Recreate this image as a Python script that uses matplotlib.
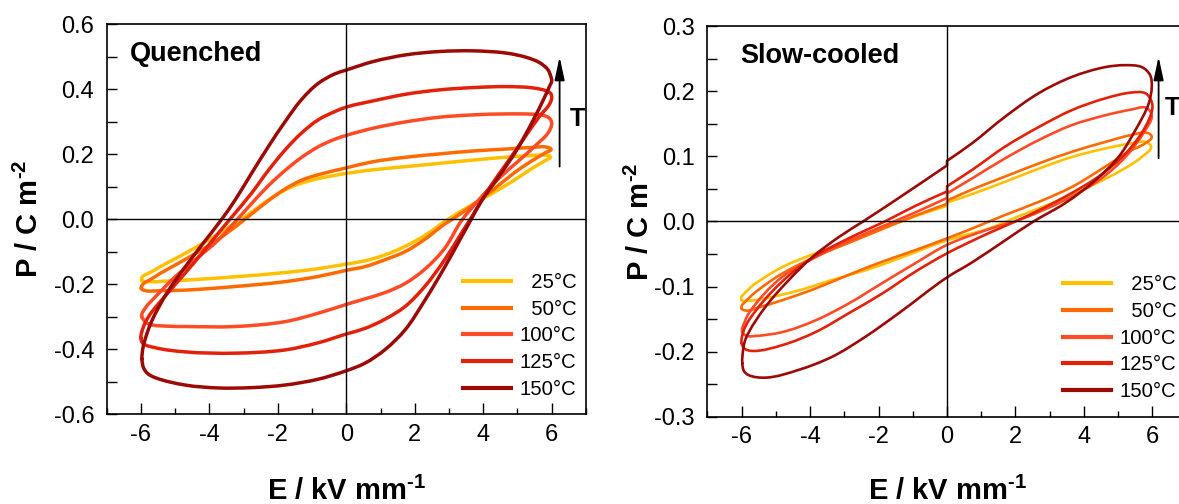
import numpy as np
import matplotlib
matplotlib.use("Agg")
import matplotlib.pyplot as plt
from matplotlib.ticker import MultipleLocator, FormatStrFormatter
from matplotlib.path import Path
from matplotlib.patches import PathPatch
from matplotlib.lines import Line2D

plt.rcParams["font.family"] = ["Liberation Sans", "DejaVu Sans"]
plt.rcParams["axes.unicode_minus"] = False
plt.rcParams["mathtext.fontset"] = "custom"
plt.rcParams["mathtext.rm"] = "Liberation Sans:bold"
plt.rcParams["mathtext.bf"] = "Liberation Sans:bold"
plt.rcParams["mathtext.default"] = "bf"

# ---------------------------------------------------------------- data
temps = ["  25°C", "  50°C", "100°C", "125°C", "150°C"]
colors = ["#FFC000", "#FF6A00", "#FF4A26", "#E3200A", "#9C0A06"]

# Quenched: P (C m^-2) vs E (kV mm^-1); each branch listed with E ascending
q25_upper = [(-5.98, -0.187), (-5.59, -0.156), (-4.71, -0.105), (-3.93, -0.058), (-3.25, -0.012),
             (-2.90, 0.012), (-2.28, 0.059), (-1.79, 0.090), (-1.31, 0.111), (-0.82, 0.125),
             (0.0, 0.141), (0.78, 0.152), (1.76, 0.162), (2.73, 0.172), (3.70, 0.182),
             (4.68, 0.191), (5.40, 0.196), (5.80, 0.197), (5.96, 0.192)]
q25_lower = [(-5.98, -0.187), (-5.70, -0.192), (-5.20, -0.190), (-4.20, -0.184), (-3.25, -0.177),
             (-1.79, -0.164), (-0.82, -0.152), (0.0, -0.138), (0.54, -0.128), (1.12, -0.110),
             (1.71, -0.084), (2.29, -0.050), (2.97, 0.0), (3.60, 0.040), (4.30, 0.082),
             (4.87, 0.118), (5.45, 0.158), (5.80, 0.180), (5.96, 0.192)]

q50_upper = [(-5.99, -0.213), (-5.59, -0.177), (-5.00, -0.141), (-4.22, -0.094), (-3.64, -0.054),
             (-2.96, 0.0), (-2.28, 0.057), (-1.79, 0.093), (-1.31, 0.120), (-0.82, 0.137),
             (0.0, 0.158), (0.78, 0.177), (1.76, 0.191), (2.73, 0.201), (3.70, 0.210),
             (4.68, 0.216), (5.45, 0.221), (5.84, 0.222), (5.98, 0.215)]
q50_lower = [(-5.99, -0.213), (-5.85, -0.220), (-5.50, -0.220), (-4.71, -0.218), (-3.25, -0.207),
             (-1.79, -0.192), (-0.82, -0.176), (0.0, -0.157), (0.54, -0.146), (1.12, -0.125),
             (1.71, -0.100), (2.29, -0.062), (2.87, -0.015), (3.10, 0.0), (3.85, 0.056),
             (4.28, 0.090), (4.87, 0.140), (5.35, 0.175), (5.84, 0.206), (5.98, 0.215)]

q100_upper = [(-5.98, -0.298), (-5.85, -0.270), (-5.59, -0.240), (-5.00, -0.177), (-4.42, -0.125),
              (-3.74, -0.064), (-3.25, -0.008), (-2.77, 0.048), (-2.28, 0.103), (-1.79, 0.150),
              (-1.31, 0.190), (-0.82, 0.223), (-0.34, 0.246), (0.0, 0.258), (0.78, 0.280),
              (1.76, 0.300), (2.73, 0.314), (3.70, 0.321), (4.68, 0.324), (5.45, 0.323),
              (5.74, 0.320), (5.94, 0.310), (6.00, 0.295)]
q100_lower = [(-5.98, -0.298), (-5.90, -0.312), (-5.78, -0.322), (-5.20, -0.329), (-4.71, -0.330),
              (-3.25, -0.330), (-1.79, -0.315), (-0.82, -0.289), (0.0, -0.262), (0.54, -0.245),
              (1.12, -0.226), (1.71, -0.198), (2.29, -0.154), (2.87, -0.090), (3.36, -0.005),
              (3.89, 0.062), (4.48, 0.128), (5.06, 0.182), (5.55, 0.229), (5.89, 0.265),
              (6.00, 0.295)]

q125_upper = [(-6.00, -0.365), (-5.94, -0.335), (-5.78, -0.300), (-5.20, -0.225), (-4.71, -0.166),
              (-4.22, -0.105), (-3.74, -0.043), (-3.40, 0.0), (-2.77, 0.080), (-2.28, 0.150),
              (-1.79, 0.213), (-1.31, 0.265), (-0.82, 0.306), (-0.34, 0.331), (0.0, 0.345),
              (0.78, 0.364), (1.76, 0.385), (2.73, 0.398), (3.70, 0.405), (4.68, 0.408),
              (5.45, 0.404), (5.84, 0.395), (5.96, 0.388), (6.00, 0.375)]
q125_lower = [(-6.00, -0.365), (-5.94, -0.382), (-5.59, -0.395), (-4.71, -0.408), (-3.25, -0.412),
              (-1.79, -0.402), (-0.82, -0.380), (0.0, -0.353), (0.54, -0.336), (1.12, -0.308),
              (1.71, -0.269), (2.29, -0.207), (2.87, -0.125), (3.36, -0.043), (3.62, 0.0),
              (4.19, 0.098), (4.67, 0.170), (5.16, 0.244), (5.64, 0.316), (5.94, 0.355),
              (6.00, 0.375)]

q150_upper = [(-5.97, -0.430), (-5.94, -0.395), (-5.85, -0.360), (-5.68, -0.312), (-5.20, -0.220),
              (-4.71, -0.147), (-4.22, -0.079), (-3.64, 0.0), (-3.25, 0.059), (-2.77, 0.141),
              (-2.28, 0.223), (-1.79, 0.300), (-1.31, 0.368), (-0.82, 0.418), (-0.34, 0.447),
              (0.0, 0.459), (0.78, 0.485), (1.76, 0.506), (2.73, 0.516), (3.70, 0.518),
              (4.68, 0.511), (5.26, 0.498), (5.64, 0.482), (5.89, 0.460), (5.97, 0.440),
              (6.00, 0.425)]
q150_lower = [(-5.97, -0.430), (-5.92, -0.458), (-5.80, -0.475), (-5.59, -0.487), (-4.71, -0.510),
              (-3.74, -0.519), (-2.77, -0.518), (-1.79, -0.510), (-0.82, -0.492), (0.0, -0.466),
              (0.54, -0.443), (1.12, -0.402), (1.71, -0.341), (2.29, -0.250), (2.87, -0.148),
              (3.36, -0.055), (3.65, 0.0), (3.94, 0.055), (4.48, 0.135), (4.96, 0.210),
              (5.45, 0.303), (5.79, 0.375), (5.94, 0.410), (6.00, 0.425)]

# Slow-cooled (the small steps at E = 0 are part of the measured loops)
s25_upper = [(-6.00, -0.121), (-5.79, -0.104), (-5.30, -0.085), (-4.81, -0.070), (-3.84, -0.049),
             (-2.87, -0.031), (-1.90, -0.011), (-0.92, 0.008), (0.0, 0.024), (0.0, 0.029),
             (0.73, 0.042), (1.70, 0.061), (2.68, 0.081), (3.65, 0.099), (4.62, 0.112),
             (5.40, 0.120), (5.80, 0.122), (5.96, 0.115)]
s25_lower = [(-6.00, -0.121), (-5.85, -0.122), (-5.30, -0.118), (-4.33, -0.106), (-3.36, -0.090),
             (-2.38, -0.075), (-1.41, -0.057), (0.0, -0.029), (1.22, -0.011), (2.19, 0.010),
             (3.16, 0.030), (4.14, 0.053), (5.11, 0.079), (5.69, 0.099), (5.96, 0.115)]

s50_upper = [(-6.00, -0.134), (-5.79, -0.118), (-5.30, -0.097), (-4.81, -0.080), (-3.84, -0.054),
             (-2.87, -0.033), (-1.90, -0.012), (-0.92, 0.009), (0.0, 0.027), (0.0, 0.032),
             (0.73, 0.049), (1.70, 0.069), (2.68, 0.089), (3.65, 0.107), (4.62, 0.122),
             (5.40, 0.133), (5.85, 0.136), (5.98, 0.130)]
s50_lower = [(-6.00, -0.134), (-5.85, -0.137), (-5.50, -0.132), (-4.81, -0.121), (-3.84, -0.103),
             (-2.87, -0.082), (-1.90, -0.062), (-0.92, -0.044), (0.0, -0.026), (0.73, -0.011),
             (1.70, 0.010), (2.68, 0.030), (3.65, 0.053), (4.62, 0.084), (5.30, 0.107),
             (5.79, 0.120), (5.98, 0.130)]

s100_upper = [(-5.98, -0.170), (-5.90, -0.153), (-5.79, -0.141), (-4.81, -0.085), (-3.84, -0.055),
              (-2.87, -0.030), (-1.90, -0.008), (-1.41, 0.003), (-0.92, 0.014), (0.0, 0.036),
              (0.0, 0.043), (0.73, 0.066), (1.70, 0.097), (2.68, 0.125), (3.65, 0.148),
              (4.62, 0.163), (5.40, 0.172), (5.79, 0.175), (5.95, 0.168), (5.98, 0.160)]
s100_lower = [(-5.98, -0.170), (-5.85, -0.176), (-5.60, -0.176), (-4.81, -0.170), (-3.84, -0.152),
              (-2.87, -0.126), (-1.90, -0.095), (-0.92, -0.064), (0.0, -0.036), (1.22, -0.012),
              (2.19, 0.004), (3.45, 0.033), (4.43, 0.063), (5.21, 0.099), (5.79, 0.140),
              (5.98, 0.160)]

s125_upper = [(-6.00, -0.187), (-5.94, -0.168), (-5.79, -0.152), (-4.81, -0.092), (-3.84, -0.053),
              (-2.87, -0.026), (-1.70, 0.003), (-0.92, 0.024), (0.0, 0.046), (0.0, 0.054),
              (0.73, 0.079), (1.70, 0.115), (2.68, 0.145), (3.65, 0.171), (4.62, 0.189),
              (5.40, 0.198), (5.79, 0.197), (5.96, 0.186), (6.00, 0.175)]
s125_lower = [(-6.00, -0.187), (-5.90, -0.196), (-5.69, -0.199), (-4.81, -0.190), (-3.84, -0.170),
              (-2.87, -0.141), (-1.90, -0.111), (-0.92, -0.077), (0.0, -0.049), (1.22, -0.018),
              (2.00, 0.0), (2.68, 0.017), (3.45, 0.038), (4.43, 0.069), (5.21, 0.104),
              (5.79, 0.145), (6.00, 0.175)]

s150_upper = [(-5.98, -0.218), (-5.95, -0.195), (-5.88, -0.180), (-5.30, -0.131), (-4.62, -0.090),
              (-3.94, -0.055), (-3.16, -0.024), (-2.45, 0.0), (-1.41, 0.036), (0.0, 0.086),
              (0.0, 0.093), (0.73, 0.120), (1.70, 0.161), (2.68, 0.197), (3.65, 0.222),
              (4.62, 0.237), (5.20, 0.240), (5.69, 0.237), (5.93, 0.225), (5.98, 0.207)]
s150_lower = [(-5.98, -0.218), (-5.93, -0.230), (-5.80, -0.236), (-5.30, -0.240), (-4.33, -0.228),
              (-3.36, -0.208), (-2.38, -0.177), (-1.41, -0.141), (0.0, -0.086), (0.73, -0.063),
              (1.70, -0.029), (2.53, 0.0), (3.45, 0.028), (4.33, 0.063), (5.01, 0.099),
              (5.50, 0.140), (5.89, 0.181), (5.98, 0.207)]

quenched = [(q25_lower, q25_upper), (q50_lower, q50_upper), (q100_lower, q100_upper),
            (q125_lower, q125_upper), (q150_lower, q150_upper)]
slow_cooled = [(s25_lower, s25_upper), (s50_lower, s50_upper), (s100_lower, s100_upper),
               (s125_lower, s125_upper), (s150_lower, s150_upper)]


def _unit(v):
    n = np.linalg.norm(v)
    return v / n if n > 0 else v


def loop_path(lower, upper, sx, sy):
    """Closed smooth path through the measured points: lower branch left->right,
    then the upper branch back right->left.  Cubic Bezier pieces whose tangents
    come from the neighbouring points (in axis-normalised units); a step at
    constant E is kept as a straight segment."""
    pts = list(lower) + list(upper[::-1])
    clean = []
    for p in pts:
        if not clean or abs(p[0] - clean[-1][0]) > 1e-9 or abs(p[1] - clean[-1][1]) > 1e-9:
            clean.append(p)
    if abs(clean[0][0] - clean[-1][0]) < 1e-9 and abs(clean[0][1] - clean[-1][1]) < 1e-9:
        clean.pop()
    P = np.asarray(clean, float) / [sx, sy]
    n = len(P)
    step = [abs(P[(i + 1) % n][0] - P[i][0]) < 1e-9 for i in range(n)]
    tang = []
    for i in range(n):
        prv, nxt = P[i - 1], P[(i + 1) % n]
        if step[i]:
            tang.append(_unit(P[i] - prv))
        elif step[i - 1]:
            tang.append(_unit(nxt - P[i]))
        else:
            tang.append(_unit(_unit(P[i] - prv) + _unit(nxt - P[i])))
    verts = [P[0]]
    codes = [Path.MOVETO]
    for i in range(n):
        j = (i + 1) % n
        if step[i]:
            c1, c2 = P[i], P[j]
        else:
            L = np.linalg.norm(P[j] - P[i])
            c1 = P[i] + tang[i] * L / 3.0
            c2 = P[j] - tang[j] * L / 3.0
        verts += [c1, c2, P[j]]
        codes += [Path.CURVE4] * 3
    verts = np.asarray(verts) * [sx, sy]
    return Path(verts, codes)


# ---------------------------------------------------------------- figure
fig = plt.figure(figsize=(11.79, 5.04), dpi=100)
ax_q = fig.add_axes([0.0905, 0.178, 0.4065, 0.774])
ax_s = fig.add_axes([0.600, 0.1732, 0.4065, 0.775])

panels = [
    dict(ax=ax_q, loops=quenched, ylim=0.6, ymaj=0.2, ymin=0.1, lw=2.5, title="Quenched",
         title_xy=(0.0486, 0.9067), arrow=(6.23, 0.162, 0.50), t_xy=(6.52, 0.308),
         leg_xy=(0.744, 0.362), ylab_x=-0.162, xlab_y=-0.22),
    dict(ax=ax_s, loops=slow_cooled, ylim=0.3, ymaj=0.1, ymin=0.05, lw=1.9, title="Slow-cooled",
         title_xy=(0.068, 0.9045), arrow=(6.18, 0.097, 0.253), t_xy=(6.37, 0.174),
         leg_xy=(0.743, 0.362), ylab_x=-0.140, xlab_y=-0.213),
]

for p in panels:
    ax = p["ax"]
    handles = []
    for (lower, upper), lab, col in zip(p["loops"], temps, colors):
        path = loop_path(lower, upper, 14.0, 2 * p["ylim"])
        ax.add_patch(PathPatch(path, facecolor="none", edgecolor=col, lw=p["lw"],
                               joinstyle="round", capstyle="round", zorder=2))
        handles.append(Line2D([], [], color=col, lw=3.0, label=lab))

    ax.axhline(0, color="black", lw=1.0, zorder=3)
    ax.axvline(0, color="black", lw=1.0, zorder=3)

    ax.set_xlim(-7, 7)
    ax.set_ylim(-p["ylim"], p["ylim"])
    ax.xaxis.set_major_locator(MultipleLocator(2))
    ax.xaxis.set_minor_locator(MultipleLocator(1))
    ax.yaxis.set_major_locator(MultipleLocator(p["ymaj"]))
    ax.yaxis.set_minor_locator(MultipleLocator(p["ymin"]))
    ax.xaxis.set_major_formatter(FormatStrFormatter("%d"))
    ax.yaxis.set_major_formatter(FormatStrFormatter("%.1f"))

    ax.tick_params(axis="both", which="both", direction="in", top=False, right=False,
                   width=1.0, labelsize=17, colors="black")
    ax.tick_params(axis="x", which="major", length=8, pad=7)
    ax.tick_params(axis="x", which="minor", length=4)
    ax.tick_params(axis="y", which="both", length=7, pad=9)
    for s in ax.spines.values():
        s.set_linewidth(1.2)

    ax.set_xlabel(r"E / kV mm$^{\text{-}1}$", fontsize=21, fontweight="bold", va="baseline")
    ax.xaxis.set_label_coords(0.5, p["xlab_y"])
    ax.set_ylabel(r"P / C m$^{\text{-}2}$", fontsize=21, fontweight="bold", va="center")
    ax.yaxis.set_label_coords(p["ylab_x"], 0.5)

    ax.text(p["title_xy"][0], p["title_xy"][1], p["title"], transform=ax.transAxes,
            fontsize=19.5, fontweight="bold", ha="left", va="baseline")

    ax_x, y0, y1 = p["arrow"]
    ax.annotate("", xy=(ax_x, y1), xytext=(ax_x, y0), annotation_clip=False,
                arrowprops=dict(arrowstyle="-|>,head_length=1.4,head_width=0.3",
                                color="black", lw=1.3, shrinkA=0, shrinkB=0,
                                mutation_scale=10))
    ax.text(p["t_xy"][0], p["t_xy"][1], "T", fontsize=18, fontweight="bold",
            ha="left", va="center", clip_on=False)

    leg = ax.legend(handles=handles, loc="upper left", bbox_to_anchor=p["leg_xy"],
                    frameon=False, fontsize=14.6, handlelength=2.35, handletextpad=0.43,
                    labelspacing=0.38, borderpad=0, borderaxespad=0)

fig.savefig("out.png", dpi=100)
